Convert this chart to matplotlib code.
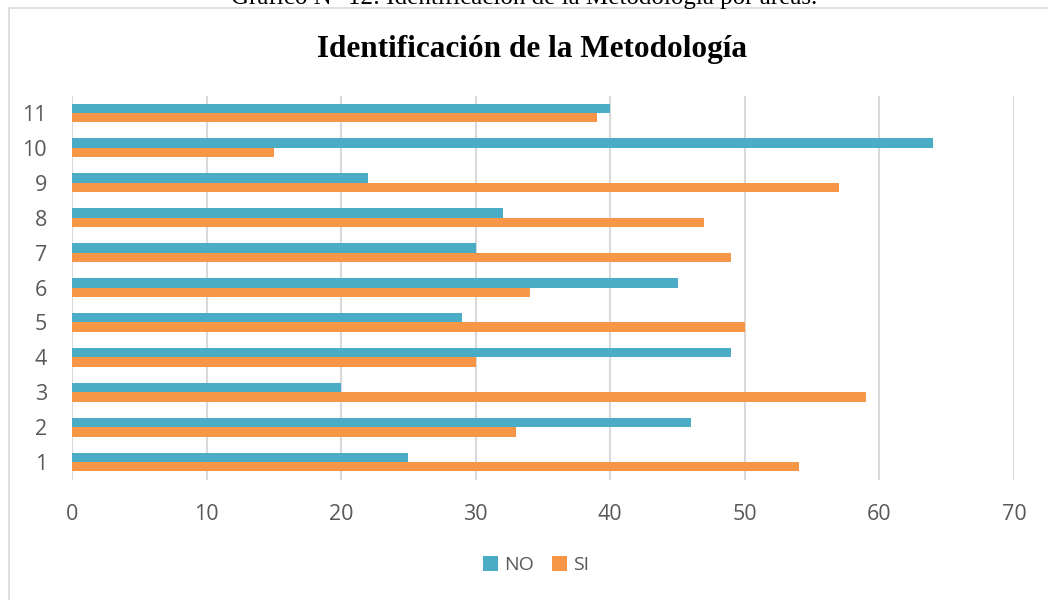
import matplotlib
matplotlib.use("Agg")
import matplotlib.pyplot as plt
import numpy as np
from matplotlib.patches import Rectangle

categories = ["1", "2", "3", "4", "5", "6", "7", "8", "9", "10", "11"]
no_values = [25, 46, 20, 49, 29, 45, 30, 32, 22, 64, 40]
si_values = [54, 33, 59, 30, 50, 34, 49, 47, 57, 15, 39]
x_ticks = [0, 10, 20, 30, 40, 50, 60, 70]

BLUE = "#4BACC6"
ORANGE = "#F79646"
TXT = "#595959"

fig = plt.figure(figsize=(10.48, 6), dpi=100)
fig.patch.set_facecolor("white")

# chart frame
fig.patches.append(Rectangle((9/1048, -0.1), 1.2, 1 - 8/600 + 0.1, transform=fig.transFigure,
                             fill=False, edgecolor="#D9D9D9", linewidth=1.2))

# caption (cut off at top, as in the reference)
fig.text(0.5, 1 + 2/600, "Gráfico N° 12: Identificación de la Metodología por áreas.",
         ha="center", va="center", fontsize=18, family="Liberation Serif", color="black")

ax = fig.add_axes([72/1048, 1 - 479.5/600, (1014 - 72)/1048, (479.5 - 95.5)/600])
y = np.arange(len(categories))
h = 0.27
ax.barh(y + h/2, no_values, height=h, color=BLUE, label="NO", zorder=3)
ax.barh(y - h/2, si_values, height=h, color=ORANGE, label="SI", zorder=3)

ax.set_xlim(0, 70)
ax.set_ylim(-0.5, len(categories) - 0.5)
ax.set_xticks(x_ticks)
ax.set_yticks(y)
ax.set_yticklabels(categories)
ax.grid(axis="x", color="#D9D9D9", linewidth=1.5, zorder=0)
for s in ax.spines.values():
    s.set_visible(False)
ax.tick_params(axis="both", length=0, labelsize=15.5, labelcolor=TXT)
ax.tick_params(axis="x", pad=18)
ax.tick_params(axis="y", pad=18)
for lbl in ax.get_xticklabels() + ax.get_yticklabels():
    lbl.set_family("Open Sans")

fig.text(0.5 + 8/1048, 1 - 49/600, "Identificación de la Metodología", ha="center", va="center",
         fontsize=22.5, fontweight="bold", family="Liberation Serif", color="black")

leg = fig.legend(loc="center", bbox_to_anchor=(0.5 + 12/1048, 1 - 565/600), ncol=2, frameon=False,
                 prop={"family": "Open Sans", "size": 14}, handlelength=0.8, handleheight=0.8,
                 handletextpad=0.3, columnspacing=0.9)
for t in leg.get_texts():
    t.set_color(TXT)

fig.savefig("out.png", dpi=100)
